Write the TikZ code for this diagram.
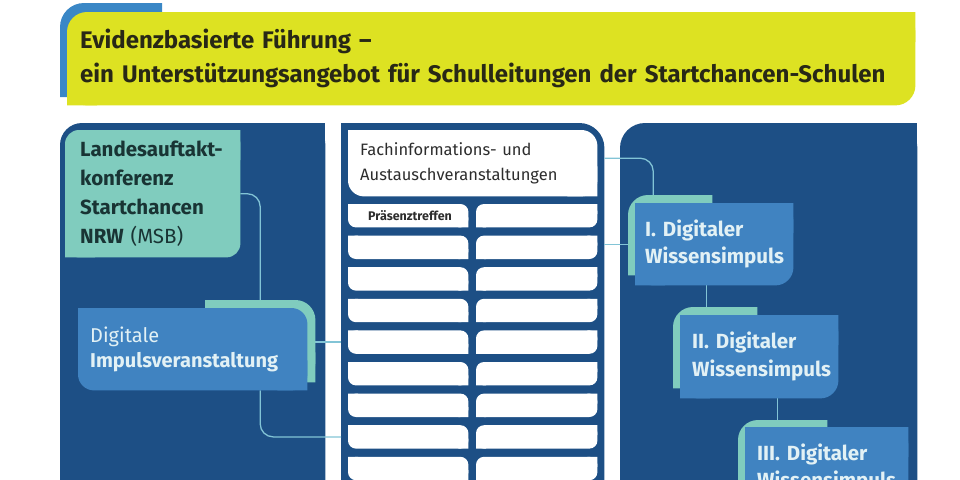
\documentclass[tikz,border=0pt]{standalone}
\usepackage{fontspec}
\setmainfont{Fira Sans}
\usetikzlibrary{backgrounds}

\definecolor{navy}{RGB}{29,79,133}
\definecolor{boxblue}{RGB}{64,131,193}
\definecolor{mint}{RGB}{128,204,190}
\definecolor{lime}{RGB}{221,226,34}
\definecolor{bannerblue}{RGB}{58,135,198}
\definecolor{linkblue}{RGB}{130,196,214}
\definecolor{titletext}{RGB}{40,40,22}
\definecolor{darktext}{RGB}{25,52,52}
\definecolor{lighttext}{RGB}{226,241,245}
\definecolor{graytext}{RGB}{45,45,45}

\begin{document}
\begin{tikzpicture}[x=1pt,y=-1pt,
  box/.style={anchor=north west,inner ysep=0pt,align=left},
  blank/.style={anchor=north west,inner sep=0pt},
  bar/.style={blank,minimum height=23pt},
  link/.style={draw=linkblue,line width=1.3pt,rounded corners=13pt}]
  \useasboundingbox (0,0) rectangle (960,479);

  % title banner
  \node[box,inner xsep=13pt,text width=822pt,minimum height=93pt,text=titletext,
    font=\fontsize{24}{34}\selectfont\bfseries] (title) at (67,12)
    {Evidenzbasierte Führung –\\ein Unterstützungsangebot für Schulleitungen der Startchancen-Schulen};

  % three columns
  \node[blank,minimum width=265pt,minimum height=420pt] (leftpanel) at (60,123) {};
  \node[blank,minimum width=263pt,minimum height=420pt] (midpanel) at (341,123) {};
  \node[blank,minimum width=297pt,minimum height=420pt] (rightpanel) at (620,123) {};

  % left column
  \node[box,inner xsep=15pt,text width=145pt,minimum height=127pt,text=darktext,
    font=\fontsize{20.5}{29}\selectfont\bfseries] (landes) at (65,130)
    {Landesauftakt-\\konferenz\\Startchancen\\NRW {\mdseries (MSB)}};
  \node[blank,minimum width=110pt,minimum height=82pt] (impacc) at (205,300) {};
  \node[box,inner xsep=12pt,text width=205pt,minimum height=82pt,text=lighttext,
    font=\fontsize{20}{25}\selectfont\bfseries] (impuls) at (78,308)
    {{\mdseries Digitale}\\Impulsveranstaltung};

  % middle column
  \node[box,inner xsep=12pt,text width=225pt,minimum height=66pt,text=graytext,
    font=\fontsize{16.5}{25}\selectfont] (fach) at (348,130)
    {Fachinformations- und\\Austauschveranstaltungen};
  \foreach \k in {1,...,9}{
    \node[bar,minimum width=120pt] (l\k) at (348,{172.4+31.6*\k}) {};
    \node[bar,minimum width=121pt] (r\k) at (476,{172.4+31.6*\k}) {};
  }
  \node[anchor=west,inner sep=0pt,text=graytext,font=\fontsize{12.5}{13}\selectfont\bfseries]
    (praes) at ([xshift=20pt]l1.west) {Präsenztreffen};

  % right column
  \node[blank,minimum width=84pt,minimum height=80pt] (acc1) at (628,195) {};
  \node[box,inner xsep=10pt,text width=138pt,minimum height=82pt,text=lighttext,
    font=\fontsize{20.5}{27.5}\selectfont\bfseries] (wiss1) at (635,203)
    {I. Digitaler\\Wissensimpuls};
  \node[blank,minimum width=84pt,minimum height=81pt] (acc2) at (673,307) {};
  \node[box,inner xsep=12pt,text width=134pt,minimum height=83pt,text=lighttext,
    font=\fontsize{20.5}{27.5}\selectfont\bfseries] (wiss2) at (680,315)
    {II. Digitaler\\Wissensimpuls};
  \node[blank,minimum width=89pt,minimum height=80pt] (acc3) at (738,420) {};
  \node[box,inner xsep=12pt,text width=139pt,minimum height=82pt,text=lighttext,
    font=\fontsize{20.5}{27.5}\selectfont\bfseries] (wiss3) at (745,427)
    {III. Digitaler\\Wissensimpuls};

  \begin{scope}[on background layer]
    % banner
    \fill[bannerblue,rounded corners=24pt] (60,3) rectangle (162,97);
    \fill[bannerblue] (162,3) rectangle ++(-30,30) (60,97) rectangle ++(30,-30);
    \fill[lime,rounded corners=20pt] (title.north west) rectangle (title.south east);
    \fill[lime] (title.north east) rectangle ++(-30,30) (title.south west) rectangle ++(30,-30);

    % panels
    \fill[navy,rounded corners=22pt] (leftpanel.north west) rectangle (leftpanel.south east);
    \fill[navy] (leftpanel.north east) rectangle ++(-30,30);
    \fill[navy,rounded corners=25pt] (midpanel.north west) rectangle (midpanel.south east);
    \fill[navy] (midpanel.north west) rectangle ++(30,30);
    \fill[navy,rounded corners=25pt] (rightpanel.north west) rectangle (rightpanel.south east);
    \fill[navy] (rightpanel.north east) rectangle ++(-30,30);

    % connectors
    \draw[link] (landes.east) -| (impacc.north);
    \draw[link] (l5.west -| impacc.east) -- (l5.west -| midpanel.west);
    \draw[link] (impuls.south -| impacc.north) |- (l8.west -| midpanel.west);
    \draw[link] ([yshift=5pt]fach.east -| midpanel.east) -| ([xshift=-17pt]acc1.north);
    \draw[link] (wiss1.west -| midpanel.east) -- (wiss1.west -| acc1.west);
    \draw[link] ([xshift=-9pt]acc2.north |- wiss1.south) -- ([xshift=-9pt]acc2.north);
    \draw[link] ([xshift=-5pt]acc3.north |- wiss2.south) -- ([xshift=-5pt]acc3.north);

    % middle column boxes
    \fill[white,rounded corners=16pt] (fach.north west) rectangle (fach.south east);
    \fill[white] (fach.north west) rectangle ++(30,30) (fach.south east) rectangle ++(-30,-30);
    \foreach \k in {1,...,9}{
      \fill[white,rounded corners=8pt] (l\k.north west) rectangle (l\k.south east)
        (r\k.north west) rectangle (r\k.south east);
      \fill[white] (l\k.north west) rectangle ++(10,10) (l\k.south east) rectangle ++(-10,-10)
        (r\k.north east) rectangle ++(-10,10) (r\k.south west) rectangle ++(10,-10);
    }

    % left column boxes
    \fill[mint,rounded corners=14pt] (landes.north west) rectangle (landes.south east);
    \fill[mint] (landes.north east) rectangle ++(-30,30) (landes.south west) rectangle ++(30,-30);
    \fill[mint,rounded corners=20pt] (impacc.north west) rectangle (impacc.south east);
    \fill[mint] (impacc.north west) rectangle ++(30,30) (impacc.south west) rectangle ++(30,-30)
      (impacc.south east) rectangle ++(-30,-30);
    \fill[boxblue,rounded corners=16pt] (impuls.north west) rectangle (impuls.south east);
    \fill[boxblue] (impuls.north west) rectangle ++(30,30) (impuls.south east) rectangle ++(-30,-30);

    % right column boxes
    \foreach \n in {1,2,3}{
      \fill[mint,rounded corners=20pt] (acc\n.north west) rectangle (acc\n.south east);
      \fill[mint] (acc\n.north east) rectangle ++(-30,30) (acc\n.south west) rectangle ++(30,-30)
        (acc\n.south east) rectangle ++(-30,-30);
    }
    \foreach \n in {1,2,3}{
      \fill[boxblue,rounded corners=18pt] (wiss\n.north west) rectangle (wiss\n.south east);
      \fill[boxblue] (wiss\n.north west) rectangle ++(30,30) (wiss\n.south west) rectangle ++(30,-30)
        (wiss\n.north east) rectangle ++(-30,30);
    }
  \end{scope}
\end{tikzpicture}
\end{document}
